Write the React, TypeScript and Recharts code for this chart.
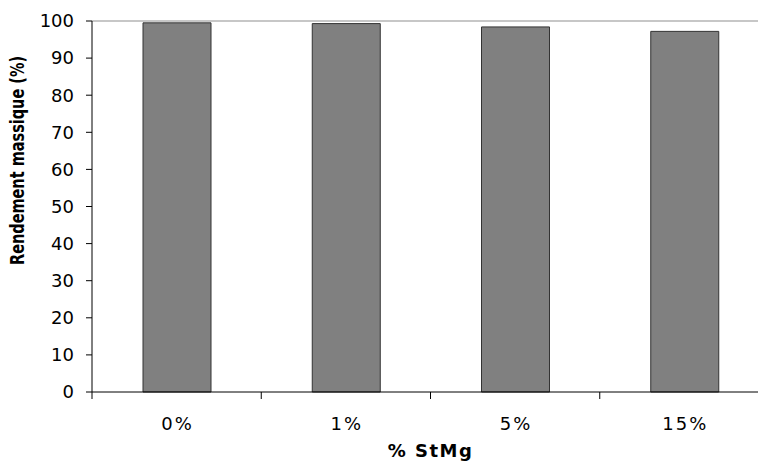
import React from 'react';
import { BarChart, Bar, XAxis, YAxis, ReferenceLine } from 'recharts';

// Rendement massique selon la teneur en StMg
const categories = ['0%', '1%', '5%', '15%'];
const rendement = [99.5, 99.3, 98.4, 97.2];
const yTicks = [0, 10, 20, 30, 40, 50, 60, 70, 80, 90, 100];

const data = categories.map((c, i) => ({ name: c, value: rendement[i] }));

const FONT = '"DejaVu Sans", Verdana, sans-serif';

// Excel-style tick: label at the category centre, tick mark at the category boundary
const CategoryTick = (props: any) => {
  const { x, y, payload } = props;
  const half = payload && payload.offset ? payload.offset : 84.6;
  return (
    <g>
      <line x1={x - half} y1={y - 25} x2={x - half} y2={y - 18} stroke="#000" strokeWidth={1} />
      <text x={x + 1} y={y} dy="0.71em" textAnchor="middle" fontSize={18} letterSpacing={2} fontFamily={FONT} fill="#000">
        {payload.value}
      </text>
    </g>
  );
};

const YTitle = (props: any) => {
  const { viewBox } = props;
  const bx = viewBox.x + 24;
  const by = viewBox.y + viewBox.height / 2 - 46;
  return (
    <text
      x={0}
      y={0}
      transform={`translate(${bx}, ${by}) rotate(-90) scale(1, 1.3)`}
      textAnchor="middle"
      fontSize={14.5}
      fontWeight="bold"
      fontFamily={FONT}
      fill="#000"
    >
      Rendement massique (%)
    </text>
  );
};

const XTitle = (props: any) => {
  const { viewBox } = props;
  const cx = viewBox.x + viewBox.width / 2;
  const by = viewBox.y + 65;
  return (
    <text x={cx} y={by} textAnchor="middle" fontSize={18} letterSpacing={1.5} fontWeight="bold" fontFamily={FONT} fill="#000">
      % StMg
    </text>
  );
};

export default function App() {
  return (
    <div style={{ position: 'absolute', left: 0, top: 0, width: 758, height: 461, overflow: 'hidden', background: '#fff' }}>
      <BarChart width={774} height={461} data={data} margin={{ top: 21, right: 5, left: 0, bottom: 9 }} barSize={68}>
        <XAxis
          dataKey="name"
          height={60}
          axisLine={{ stroke: '#000' }}
          tickLine={false}
          tickSize={0}
          tickMargin={25}
          tick={<CategoryTick />}
          label={<XTitle />}
        />
        <YAxis
          width={92}
          domain={[0, 100]}
          ticks={yTicks}
          interval={0}
          axisLine={{ stroke: '#000' }}
          tickLine={{ stroke: '#000' }}
          tickSize={6}
          tickMargin={12}
          tick={{ fontSize: 18, fontFamily: FONT, fill: '#000' }}
          label={<YTitle />}
        />
        <ReferenceLine y={100} stroke="#b4b4b4" strokeWidth={1.5} />
        <Bar dataKey="value" fill="#808080" stroke="#333" strokeWidth={1} isAnimationActive={false} />
      </BarChart>
    </div>
  );
}
